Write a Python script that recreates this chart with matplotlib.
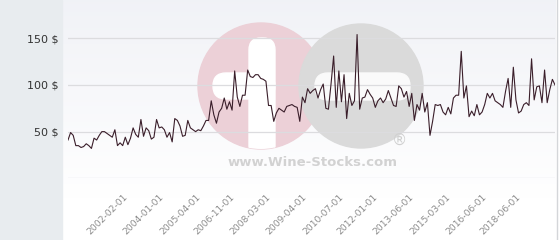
import numpy as np
from matplotlib import pyplot as plt
from matplotlib.patches import Circle, FancyBboxPatch, Rectangle

# monthly prices (in $)
prices = [41, 49, 46, 35, 35, 33, 34, 37, 35, 32, 43, 41, 46, 50, 50, 48, 46, 44, 52, 35,
          38, 35, 44, 36, 43, 54, 47, 44, 63, 45, 54, 51, 42, 44, 63, 54, 55, 52, 44, 49,
          39, 64, 62, 56, 45, 46, 62, 54, 52, 50, 52, 51, 56, 62, 62, 83, 68, 59, 71, 75,
          86, 74,
          82, 73, 115, 87, 77, 89, 89, 116, 109, 108, 111, 111, 107, 106, 104, 78, 78, 61,
          70, 75, 73, 71, 77, 78, 79, 77, 76, 61, 87, 81, 96, 91, 94, 96, 86, 95, 101, 75,
          74, 101, 131, 76, 115, 82, 111, 64, 91, 78, 83, 154, 74, 86, 87, 95, 90, 86, 76,
          83, 86, 81, 85, 94, 86, 78,
          77, 99, 96, 87, 93, 77, 91, 62, 79, 73, 91, 71, 81, 46, 61, 79, 78, 79, 71, 68,
          76, 69, 86, 89, 89, 136, 86, 99, 66, 72, 67, 79, 68, 71, 79, 91, 86, 91, 83, 81,
          79, 76, 93, 107, 76, 119, 84, 70, 72, 79, 81, 78, 128, 84, 98, 99, 81, 116, 81,
          95, 106, 100]

tick_idx = [21, 35, 49, 62, 76, 90, 104, 117, 131, 145, 159, 172]
tick_labels = ["2002-02-01", "2004-01-01", "2005-04-01", "2006-11-01", "2008-03-01",
               "2009-04-01", "2010-07-01", "2012-01-01", "2013-06-01", "2015-03-01",
               "2016-06-01", "2018-06-01"]

y_ticks = [0, 50, 100, 150]
y_labels = ["", "50 $", "100 $", "150 $"]


def main():
    W, H = 560, 240
    fig = plt.figure(figsize=(W / 100, H / 100), dpi=100)
    fig.patch.set_facecolor("white")

    # background layer in pixel coordinates (panel, gradient, watermark)
    bg = fig.add_axes([0, 0, 1, 1], zorder=0)
    bg.set_xlim(0, W)
    bg.set_ylim(H, 0)
    bg.axis("off")
    grad = np.linspace(0, 1, 100).reshape(-1, 1)
    top = np.array([0.945, 0.950, 0.968])
    bottom = np.array([1.0, 1.0, 1.0])
    img = top + (bottom - top) * grad[:, :, None]
    bg.imshow(img, extent=[62, 556, 200, 0], aspect="auto", zorder=0)
    bg.add_patch(Rectangle((0, 0), 62, H, color="#e8ecef", zorder=1))
    bg.plot([556.5, 556.5], [0, H], color="#d4d6d9", lw=1, zorder=1)

    pink = Circle((261, 86), 63, color="#ecd0d7", zorder=2)
    bg.add_patch(pink)
    vbar = FancyBboxPatch((249, 38), 26, 120, boxstyle="round,pad=0,rounding_size=12",
                          color="white", zorder=3)
    hbar = FancyBboxPatch((213, 73), 62, 26, boxstyle="round,pad=0,rounding_size=13",
                          color="white", zorder=3)
    bg.add_patch(vbar)
    bg.add_patch(hbar)
    vbar.set_clip_path(pink)
    hbar.set_clip_path(pink)
    bg.add_patch(Circle((361, 86), 62, color="#dadada", zorder=4))
    bg.add_patch(FancyBboxPatch((315, 73), 95, 27, boxstyle="round,pad=0,rounding_size=13",
                                color="#fafafa", zorder=5))
    bg.text(313, 162, "www.Wine-Stocks.com", color="#d2d2d2", fontsize=9.5,
            fontweight="bold", ha="center", va="center", zorder=5)
    bg.text(399, 140, "®", color="#d0d0d0", fontsize=11, ha="center", va="center", zorder=5)

    # the chart itself
    ax = fig.add_axes([68 / W, 1 - 178.3 / H, (555 - 68) / W, 178.3 / H], zorder=1)
    ax.patch.set_alpha(0)
    x = np.arange(len(prices))
    ax.plot(x, prices, color="#3a1e2a", linewidth=0.8, zorder=3)
    ax.set_xlim(0, len(prices) - 1)
    ax.set_ylim(0, 191)

    ax.set_yticks(y_ticks)
    ax.set_yticklabels(y_labels)
    ax.grid(axis="y", color="#dcdcdf", linewidth=0.9)
    ax.set_axisbelow(True)
    ax.set_xticks(tick_idx)
    ax.set_xticklabels(tick_labels)
    plt.setp(ax.get_xticklabels(), rotation=45, ha="right", va="top",
             rotation_mode="anchor")
    ax.tick_params(axis="y", length=0, pad=6.5, labelsize=8, labelcolor="#333333")
    ax.tick_params(axis="x", length=0, pad=10, labelsize=6.6, labelcolor="#8c8c8c")
    for s in ax.spines.values():
        s.set_visible(False)

    fig.savefig("out.png", dpi=100)


if __name__ == '__main__':
    main()
